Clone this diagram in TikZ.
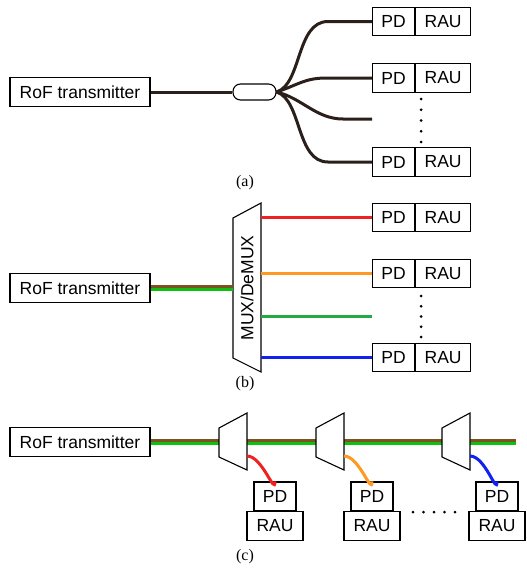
\documentclass[tikz,border=0pt]{standalone}
\usepackage{fontspec}
\setmainfont{Liberation Sans}
\newfontfamily\capfont{Liberation Serif}
\begin{document}
\begin{tikzpicture}[x=1pt,y=-1pt,
  box/.style={draw=black,line width=1.1pt,inner sep=0pt,font=\fontsize{17.5}{18}\selectfont},
  txbox/.style={box,minimum width=140pt,minimum height=29pt},
  pdbox/.style={box,minimum width=42pt,minimum height=28.5pt},
  raubox/.style={box,minimum width=55pt,minimum height=28.5pt},
  fiber/.style={line width=3pt,draw=fib},
  wl/.style={line width=3pt},
  bus/.style={line width=3.1pt},
  mux/.style={draw=black,line width=1.1pt,fill=white},
  captxt/.style={font=\capfont\fontsize{16}{18}\selectfont},
  dotc/.style={fill=black}
]
\definecolor{fib}{HTML}{2A1F1A}
\definecolor{cred}{HTML}{EE2222}
\definecolor{cora}{HTML}{FF9922}
\definecolor{cgrn}{HTML}{22AA44}
\definecolor{cblu}{HTML}{1122EE}
\definecolor{cbrn}{HTML}{7A5420}
\definecolor{cgr2}{HTML}{10C010}
\useasboundingbox (0,0) rectangle (527,570);

% ---------- (a) ----------
\node[txbox] (txa) at (80,92) {RoF transmitter};
\node[draw=black,line width=1.1pt,rounded corners=7.5pt,minimum width=43pt,minimum height=16pt,inner sep=0pt] (cpl) at (254.5,92) {};
\foreach \i/\y in {1/21.5,2/78,4/162} {
  \node[pdbox,anchor=west] (pda\i) at (372,\y) {PD};
  \node[raubox,anchor=west] (raua\i) at (pda\i.east) {RAU};
}
\coordinate (enda3) at (372,119);
\draw[fiber] (txa.east) -- (cpl.west);
\draw[fiber] (cpl.east) .. controls (302,84) and (296,21.5) .. (328,21.5) -- (pda1.west);
\draw[fiber] (cpl.east) .. controls (300,84) and (305,78) .. (327,78) -- (pda2.west);
\draw[fiber] (cpl.east) .. controls (302,98) and (316,119) .. (343,119) -- (enda3);
\draw[fiber] (cpl.east) .. controls (302,100) and (296,162) .. (328,162) -- (pda4.west);
\foreach \y in {99,109.75,120.5,131.25,142} \fill[dotc] (421,\y) circle (1.5);
\node[captxt] (capa) at (245,183) {(a)};

% ---------- (b) ----------
\node[txbox] (txb) at (80,288) {RoF transmitter};
\draw[mux] (233,218) -- (261,203) -- (261,372) -- (233,358) -- cycle;
\node[box,draw=none,rotate=90] (muxb) at (247,288) {MUX/DeMUX};
\coordinate (muxbin) at (233,288);
\foreach \i/\y in {1/217.5,2/273.5,4/357.5} {
  \node[pdbox,anchor=west] (pdb\i) at (372,\y) {PD};
  \node[raubox,anchor=west] (raub\i) at (pdb\i.east) {RAU};
}
\coordinate (endb3) at (372,316);
\draw[bus,cbrn] ([yshift=1.5pt]txb.east) -- ([yshift=1.5pt]muxbin);
\draw[bus,cgr2] ([yshift=-1.5pt]txb.east) -- ([yshift=-1.5pt]muxbin);
\draw[wl,cred] (261,217.5) -- (pdb1.west);
\draw[wl,cora] (261,273.5) -- (pdb2.west);
\draw[wl,cgrn] (261,316) -- (endb3);
\draw[wl,cblu] (261,357.5) -- (pdb4.west);
\foreach \y in {296,306.25,316.5,326.75,337} \fill[dotc] (421,\y) circle (1.5);
\node[captxt] (capb) at (245,384) {(b)};

% ---------- (c) ----------
\node[txbox] (txc) at (80,442) {RoF transmitter};
\coordinate (endc) at (516,442);
\draw[bus,cbrn] ([yshift=1.5pt]txc.east) -- ([yshift=1.5pt]endc);
\draw[bus,cgr2] ([yshift=-1.5pt]txc.east) -- ([yshift=-1.5pt]endc);
\foreach \i/\xl/\xp/\col in {1/219/275/cred,2/316/372/cora,3/442/497/cblu} {
  \pgfmathsetmacro{\xr}{\xl+28}
  \draw[mux] (\xl,428) -- (\xr,413) -- (\xr,470) -- (\xl,457) -- cycle;
  \node[pdbox,minimum width=42pt,anchor=south] (pdc\i) at (\xp,511) {PD};
  \node[box,minimum width=56pt,minimum height=28.5pt,anchor=north] (rauc\i) at (pdc\i.south) {RAU};
  \coordinate (tap\i) at (\xr,456);
  \draw[wl,\col] (tap\i) .. controls ([xshift=15.5pt]tap\i) and ([yshift=-15pt]pdc\i.north) .. (pdc\i.north);
}
\foreach \x in {413,423.5,434,444.5,455} \fill[dotc] (\x,512) circle (1.5);
\node[captxt] (capc) at (245,557) {(c)};
\end{tikzpicture}
\end{document}
